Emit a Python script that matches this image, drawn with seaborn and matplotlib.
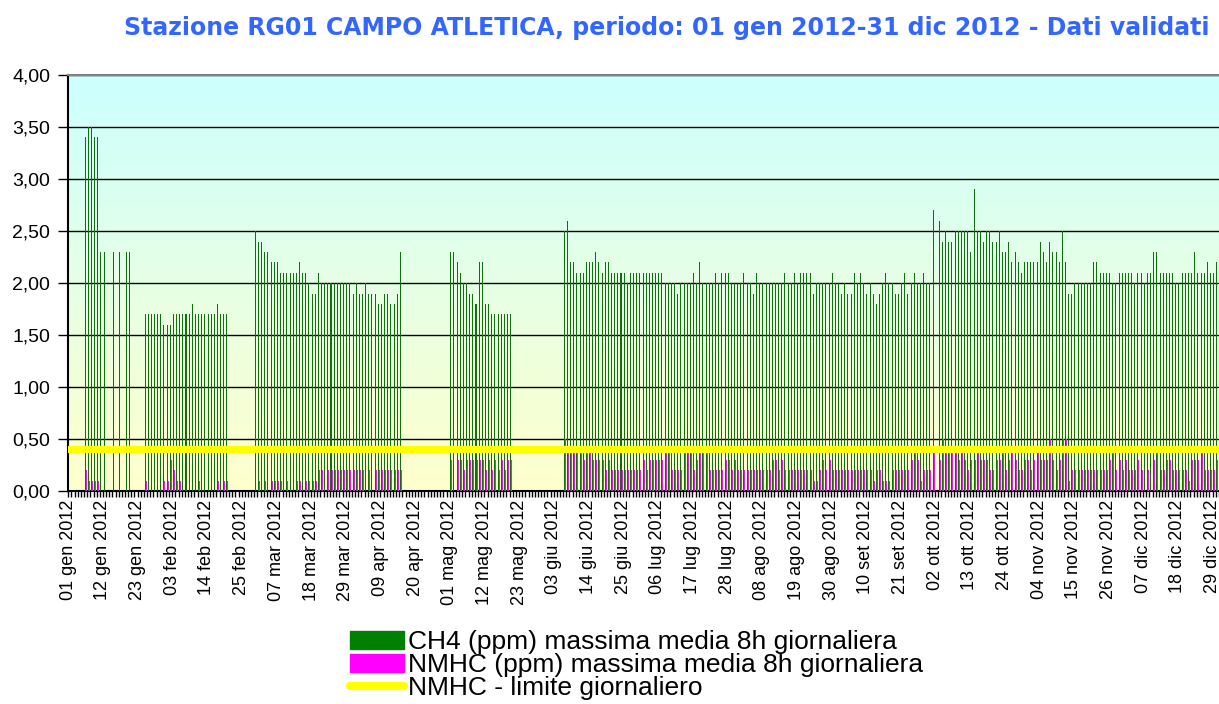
import numpy as np
import pandas as pd
import matplotlib
matplotlib.use("Agg")
import matplotlib.pyplot as plt
import seaborn as sns
from matplotlib.patches import Patch
from matplotlib.lines import Line2D
from matplotlib.colors import LinearSegmentedColormap

N = None  # giorno senza dato

# ------------------------------------------------------------------
# Dati: valori giornalieri 2012 (ppm), un elenco per mese
# ------------------------------------------------------------------
ch4_gen = [N, N, N, N, N, 3.4, 3.5, 3.5, 3.4, 3.4, 2.3, 2.3, N, N, 2.3, N, 2.3, N, 2.3, 2.3,
           N, N, N, N, 1.7, 1.7, 1.7, 1.7, 1.7, 1.7, 1.6]
ch4_feb = [1.6, 1.6, 1.7, 1.7, 1.7, 1.7, 1.7, 1.7, 1.8, 1.7, 1.7, 1.7, 1.7, 1.7, 1.7, 1.7, 1.8,
           1.7, 1.7, 1.7, N, N, N, N, N, N, N, N, 2.5]
ch4_mar = [2.4, 2.4, 2.3, 2.3, 2.2, 2.2, 2.2, 2.1, 2.1, 2.1, 2.1, 2.1, 2.1, 2.2, 2.1, 2.1, 2.0,
           1.9, 1.9, 2.1, 2.0, 2.0, 2.0, 2.0, 2.0, 2.0, 2.0, 2.0, 2.0, 2.0, 1.9]
ch4_apr = [2.0, 1.9, 1.9, 2.0, 1.9, 1.9, 1.9, 1.8, 1.8, 1.9, 1.9, 1.8, 1.8, 1.9, 2.3,
           N, N, N, N, N, N, N, N, N, N, N, N, N, N, N]
ch4_mag = [2.3, 2.3, 2.2, 2.1, 2.0, 2.0, 1.9, 1.9, 1.8, 2.2, 2.2, 1.8, 1.8, 1.7, 1.7, 1.7, 1.7,
           1.7, 1.7, 1.7, N, N, N, N, N, N, N, N, N, N, N]
ch4_giu = [N, N, N, N, N, 2.5, 2.6, 2.2, 2.2, 2.1, 2.1, 2.1, 2.2, 2.2, 2.2, 2.3, 2.2, 2.1, 2.2,
           2.2, 2.1, 2.1, 2.1, 2.1, 2.1, 2.0, 2.1, 2.1, 2.1, 2.1]
ch4_lug = [2.1, 2.1, 2.1, 2.1, 2.1, 2.1, 2.1, 2.0, 2.0, 2.0, 2.0, 1.9, 2.0, 2.0, 2.0, 2.0, 2.1,
           2.0, 2.2, 2.0, 2.0, 2.0, 2.0, 2.1, 2.0, 2.1, 2.1, 2.1, 2.0, 2.0, 2.0]
ch4_ago = [2.0, 2.1, 2.0, 2.0, 1.9, 2.1, 2.0, 2.0, 2.0, 2.0, 2.0, 2.0, 2.0, 2.0, 2.1, 2.0, 2.0,
           2.1, 2.0, 2.1, 2.1, 2.1, 2.1, 1.9, 2.0, 2.0, 2.0, 2.0, 2.0, 2.1, 2.0]
ch4_set = [2.0, 1.9, 2.0, 1.9, 1.9, 2.1, 2.0, 2.1, 2.0, 1.9, 2.0, 1.9, 1.8, 1.9, 2.0, 2.1, 2.0,
           2.0, 1.9, 1.9, 2.0, 2.1, 1.9, 2.0, 2.1, 2.0, 2.0, 2.1, 2.0, 2.0]
ch4_ott = [2.7, N, 2.6, 2.4, 2.5, 2.4, 2.4, 2.5, 2.5, 2.5, 2.5, 2.5, 2.3, 2.9, 2.5, 2.5, 2.4,
           2.5, 2.5, 2.4, 2.4, 2.5, 2.3, 2.3, 2.4, 2.2, 2.3, 2.2, 2.1, 2.2, 2.2]
ch4_nov = [2.2, 2.2, 2.2, 2.4, 2.3, 2.2, 2.4, 2.3, 2.3, 2.2, 2.5, 2.2, 1.9, 1.9, 2.0, 2.0, 2.0,
           2.0, 2.0, 2.0, 2.2, 2.2, 2.1, 2.1, 2.1, 2.1, 2.0, 2.0, 2.1, 2.1]
ch4_dic = [2.1, 2.1, 2.1, 2.0, 2.1, 2.1, 2.0, 2.1, 2.1, 2.3, 2.3, 2.1, 2.1, 2.1, 2.1, 2.1, 2.0,
           2.0, 2.1, 2.1, 2.1, 2.1, 2.3, 2.1, 2.1, 2.1, 2.2, 2.1, 2.1, 2.2, 2.2]

nmhc_gen = [N, N, N, N, N, 0.2, 0.1, 0.1, 0.1, 0.1, N, N, N, N, N, N, N, N, N, N,
            N, N, N, N, 0.1, N, N, N, N, N, 0.1]
nmhc_feb = [0.1, 0.3, 0.2, 0.1, 0.1, N, N, N, N, N, 0.1, N, N, N, N, N, 0.1, N, 0.1, 0.1,
            N, N, N, N, N, N, N, N, N]
nmhc_mar = [0.1, N, 0.1, N, 0.1, 0.1, 0.1, 0.1, N, 0.1, N, N, 0.1, 0.1, N, 0.1, 0.1, 0.1, 0.1,
            0.2, 0.2, N, 0.2, 0.2, 0.2, 0.2, 0.2, 0.2, 0.2, 0.2, 0.2]
nmhc_apr = [0.2, 0.2, 0.2, N, 0.2, N, 0.2, 0.2, 0.2, 0.2, 0.2, 0.2, 0.2, 0.2, 0.2,
            N, N, N, N, N, N, N, N, N, N, N, N, N, N, N]
nmhc_mag = [0.3, N, 0.3, 0.3, 0.2, 0.3, 0.3, 0.3, 0.3, 0.3, 0.3, 0.2, 0.3, 0.2, 0.3, 0.2, 0.3,
            0.2, 0.3, 0.3, N, N, N, N, N, N, N, N, N, N, N]
nmhc_giu = [N, N, N, N, N, 0.5, 0.4, 0.4, 0.4, 0.4, 0.4, 0.3, 0.4, 0.4, 0.3, 0.3, 0.3, 0.3, 0.2,
            0.3, 0.2, 0.2, 0.2, 0.2, 0.2, 0.2, 0.2, 0.2, 0.2, 0.2]
nmhc_lug = [0.3, 0.2, 0.3, 0.3, 0.3, 0.3, 0.3, 0.4, 0.4, 0.2, 0.2, 0.2, 0.2, 0.4, 0.4, 0.4, 0.2,
            0.3, 0.4, 0.4, 0.4, 0.2, 0.2, 0.2, 0.2, 0.2, 0.3, 0.3, 0.2, 0.3, 0.2]
nmhc_ago = [0.2, 0.2, 0.2, 0.2, 0.2, 0.2, 0.2, 0.2, 0.2, 0.2, 0.3, 0.3, 0.2, 0.3, 0.2, 0.2, 0.2,
            0.2, 0.2, 0.2, 0.2, 0.2, 0.2, 0.1, 0.1, 0.2, 0.3, 0.2, 0.3, 0.2, 0.2]
nmhc_set = [0.2, 0.2, 0.2, 0.2, 0.2, 0.2, 0.2, 0.2, 0.2, 0.2, 0.2, 0.1, 0.2, 0.2, 0.1, 0.1, 0.1,
            0.2, 0.2, 0.2, 0.2, 0.2, 0.2, 0.3, 0.4, 0.3, 0.1, 0.2, 0.2, 0.2]
nmhc_ott = [0.4, N, 0.3, 0.5, 0.4, 0.4, 0.4, 0.4, 0.3, 0.4, 0.3, 0.2, 0.3, 0.3, 0.4, 0.3, 0.3,
            0.3, 0.2, 0.2, 0.3, 0.3, 0.4, 0.2, 0.3, 0.4, 0.3, 0.2, 0.2, 0.3, 0.3]
nmhc_nov = [0.2, 0.3, 0.4, 0.3, 0.3, 0.3, 0.5, 0.3, 0.2, 0.3, 0.5, 0.5, 0.1, 0.2, 0.2, 0.2, 0.2,
            0.2, 0.2, 0.2, 0.2, 0.2, 0.2, 0.2, 0.2, 0.3, 0.4, 0.2, 0.3, 0.2]
nmhc_dic = [0.3, 0.2, 0.2, 0.2, 0.3, 0.2, N, 0.2, N, 0.3, 0.4, 0.2, 0.2, 0.3, 0.3, 0.2, 0.2,
            0.2, 0.2, 0.2, 0.1, 0.3, 0.3, 0.3, 0.4, 0.2, 0.2, 0.2, 0.2, 0.3, 0.3]

limite_nmhc = 0.41

etichette_x = ["01 gen 2012", "12 gen 2012", "23 gen 2012", "03 feb 2012", "14 feb 2012",
               "25 feb 2012", "07 mar 2012", "18 mar 2012", "29 mar 2012", "09 apr 2012",
               "20 apr 2012", "01 mag 2012", "12 mag 2012", "23 mag 2012", "03 giu 2012",
               "14 giu 2012", "25 giu 2012", "06 lug 2012", "17 lug 2012", "28 lug 2012",
               "08 ago 2012", "19 ago 2012", "30 ago 2012", "10 set 2012", "21 set 2012",
               "02 ott 2012", "13 ott 2012", "24 ott 2012", "04 nov 2012", "15 nov 2012",
               "26 nov 2012", "07 dic 2012", "18 dic 2012", "29 dic 2012"]
posizioni_x = [0, 11, 22, 33, 44, 55, 66, 77, 88, 99, 110, 121, 132, 143, 154, 165, 176, 187,
               198, 209, 220, 231, 242, 253, 264, 275, 286, 297, 308, 319, 330, 341, 352, 363]
tick_y = [0.0, 0.5, 1.0, 1.5, 2.0, 2.5, 3.0, 3.5, 4.0]
etichette_y = ["0,00", "0,50", "1,00", "1,50", "2,00", "2,50", "3,00", "3,50", "4,00"]

lab_ch4 = "CH4 (ppm) massima media 8h giornaliera"
lab_nmhc = "NMHC (ppm) massima media 8h giornaliera"
lab_lim = "NMHC - limite giornaliero"
titolo = "Stazione RG01 CAMPO ATLETICA, periodo: 01 gen 2012-31 dic 2012 - Dati validati"

# ------------------------------------------------------------------
ch4 = np.array(ch4_gen + ch4_feb + ch4_mar + ch4_apr + ch4_mag + ch4_giu +
               ch4_lug + ch4_ago + ch4_set + ch4_ott + ch4_nov + ch4_dic, dtype=float)
nmhc = np.array(nmhc_gen + nmhc_feb + nmhc_mar + nmhc_apr + nmhc_mag + nmhc_giu +
                nmhc_lug + nmhc_ago + nmhc_set + nmhc_ott + nmhc_nov + nmhc_dic, dtype=float)
giorni = np.arange(len(ch4))

df = pd.DataFrame({
    "giorno": np.concatenate([giorni, giorni]),
    "valore": np.concatenate([ch4, nmhc]),
    "serie": [lab_ch4] * len(giorni) + [lab_nmhc] * len(giorni),
})

colori = {lab_ch4: "#008000", lab_nmhc: "#FF00FF"}

sns.set_style("white")
plt.rcParams["font.family"] = ["Liberation Sans", "DejaVu Sans"]
plt.rcParams["text.color"] = "black"
plt.rcParams["xtick.color"] = "black"
plt.rcParams["ytick.color"] = "black"

W, H = 1219, 704
fig = plt.figure(figsize=(W / 100, H / 100), dpi=100)
ax = fig.add_axes([68.3 / W, (H - 491.3) / H, (1222 - 68.3) / W, (491.3 - 75) / H])

# sfondo sfumato azzurro -> giallo
sfondo = LinearSegmentedColormap.from_list("sfondo", ["#FFFFCC", "#CCFFFF"])
ax.imshow(np.linspace(0, 1, 256).reshape(-1, 1), cmap=sfondo, origin="lower",
          extent=[0, 1, 0, 1], transform=ax.transAxes, aspect="auto", zorder=0)

# barre sottili nette, come nel grafico originale
sns.barplot(data=df, x="giorno", y="valore", hue="serie", order=list(giorni),
            hue_order=[lab_ch4, lab_nmhc], palette=colori, width=0.64, errorbar=None,
            linewidth=0, legend=False, ax=ax, zorder=3, antialiased=False)

ax.axhline(limite_nmhc, color="#FFFF00", lw=5.2, zorder=4)

ax.set_xlim(-0.5, len(giorni) - 0.5)
ax.set_ylim(0, 4)
ax.set_xlabel("")
ax.set_ylabel("")

ax.set_yticks(tick_y)
ax.set_yticklabels(etichette_y, fontsize=14)
ax.yaxis.grid(True, color="black", lw=1.0)
ax.xaxis.grid(False)
ax.set_axisbelow(True)

ax.set_xticks([p - 0.5 for p in posizioni_x])
ax.set_xticklabels(etichette_x, rotation=90, fontsize=13)
ax.set_xticks(giorni - 0.5, minor=True)
ax.tick_params(axis="x", which="both", length=4, width=1, color="black", pad=2)
ax.tick_params(axis="y", length=7, width=1, color="black", pad=6, direction="out")
ax.tick_params(axis="both", which="both", bottom=True, left=True)

for lato in ["left", "bottom"]:
    ax.spines[lato].set_color("black")
    ax.spines[lato].set_linewidth(1.5)
ax.spines["top"].set_color("#808080")
ax.spines["top"].set_linewidth(1.5)
ax.spines["right"].set_color("#808080")

fig.text(1210 / W, 1 - 28 / H, titolo, ha="right", va="center", fontsize=17,
         fontweight="bold", color="#3366FF", family="DejaVu Sans")

maniglie = [Patch(color=colori[lab_ch4]), Patch(color=colori[lab_nmhc]),
            Line2D([0], [0], color="#FFFF00", lw=6, solid_capstyle="round")]
fig.legend(maniglie, [lab_ch4, lab_nmhc, lab_lim], loc="upper left",
           bbox_to_anchor=(350 / W, 1 - 630 / H), frameon=False, fontsize=19,
           handlelength=2.05, handleheight=0.65, handletextpad=0.15, labelspacing=-0.03,
           borderpad=0, borderaxespad=0, labelcolor="black")

fig.savefig("out.png", dpi=100)
